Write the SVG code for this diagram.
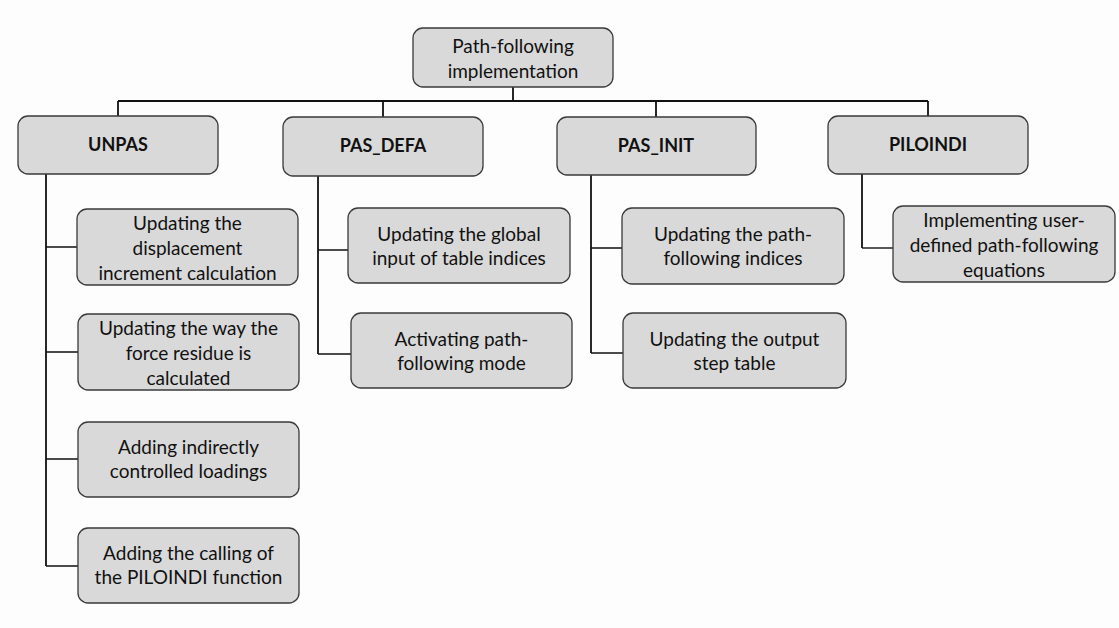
<svg xmlns="http://www.w3.org/2000/svg" width="1119" height="628" viewBox="0 0 1119 628">
<style>
.box{fill:#d9d9d9;stroke:#3a3a3a;stroke-width:1.3}
.t{font-family:Lato,"Open Sans",sans-serif;font-size:19px;fill:#111;text-anchor:middle}
.b{font-family:Lato,"Open Sans",sans-serif;font-size:18px;font-weight:bold;fill:#111;text-anchor:middle}
.c{fill:none;stroke:#111;stroke-width:1.4}
.m{fill:none;stroke:#111;stroke-width:1.8}
</style>
<rect width="1119" height="628" fill="#fdfdfd"/>
<g id="connectors">
<path class="m" d="M513 87V101M118 101H928M118 101V116M383 101V117M656 101V117M928 101V116"/>
<path class="m" d="M46 174V566"/>
<path class="c" d="M46 247H77M46 352H78M46 459H78M46 566H78"/>
<path class="m" d="M318 176V354"/>
<path class="c" d="M318 250H348M318 354H351"/>
<path class="m" d="M591 175V353"/>
<path class="c" d="M591 248H622M591 353H623"/>
<path class="m" d="M862 174V248"/>
<path class="c" d="M862 248H893"/>
</g>
<g id="root"><rect class="box" x="413" y="28" width="200" height="59" rx="10"/>
<text class="t" x="513" y="53">Path-following<tspan x="513" dy="25">implementation</tspan></text></g>
<g id="unpas"><rect class="box" x="18" y="116" width="200" height="58" rx="10"/>
<text class="b" x="118" y="151">UNPAS</text></g>
<g id="pas_defa"><rect class="box" x="283" y="117" width="200" height="59" rx="10"/>
<text class="b" x="383" y="152">PAS_DEFA</text></g>
<g id="pas_init"><rect class="box" x="557" y="117" width="199" height="58" rx="10"/>
<text class="b" x="656" y="152">PAS_INIT</text></g>
<g id="piloindi"><rect class="box" x="828" y="116" width="200" height="58" rx="10"/>
<text class="b" x="928" y="151">PILOINDI</text></g>
<g id="u1"><rect class="box" x="77" y="209" width="221" height="76" rx="10"/>
<text class="t" x="187.5" y="230">Updating the<tspan x="187.5" dy="25">displacement</tspan><tspan x="187.5" dy="25">increment calculation</tspan></text></g>
<g id="u2"><rect class="box" x="78" y="314" width="221" height="76" rx="10"/>
<text class="t" x="188.5" y="335">Updating the way the<tspan x="188.5" dy="25">force residue is</tspan><tspan x="188.5" dy="25">calculated</tspan></text></g>
<g id="u3"><rect class="box" x="78" y="422" width="221" height="75" rx="10"/>
<text class="t" x="188.5" y="454">Adding indirectly<tspan x="188.5" dy="24">controlled loadings</tspan></text></g>
<g id="u4"><rect class="box" x="78" y="528" width="221" height="75" rx="10"/>
<text class="t" x="188.5" y="560">Adding the calling of<tspan x="188.5" dy="24">the PILOINDI function</tspan></text></g>
<g id="d1"><rect class="box" x="348" y="208" width="222" height="75" rx="10"/>
<text class="t" x="459" y="241">Updating the global<tspan x="459" dy="24">input of table indices</tspan></text></g>
<g id="d2"><rect class="box" x="351" y="313" width="221" height="75" rx="10"/>
<text class="t" x="461.5" y="346">Activating path-<tspan x="461.5" dy="24">following mode</tspan></text></g>
<g id="i1"><rect class="box" x="622" y="208" width="222" height="76" rx="10"/>
<text class="t" x="733" y="241">Updating the path-<tspan x="733" dy="24">following indices</tspan></text></g>
<g id="i2"><rect class="box" x="623" y="313" width="223" height="75" rx="10"/>
<text class="t" x="734.5" y="346">Updating the output<tspan x="734.5" dy="24">step table</tspan></text></g>
<g id="p1"><rect class="box" x="893" y="206" width="222" height="76" rx="10"/>
<text class="t" x="1004" y="227">Implementing user-<tspan x="1004" dy="25">defined path-following</tspan><tspan x="1004" dy="25">equations</tspan></text></g>
</svg>
